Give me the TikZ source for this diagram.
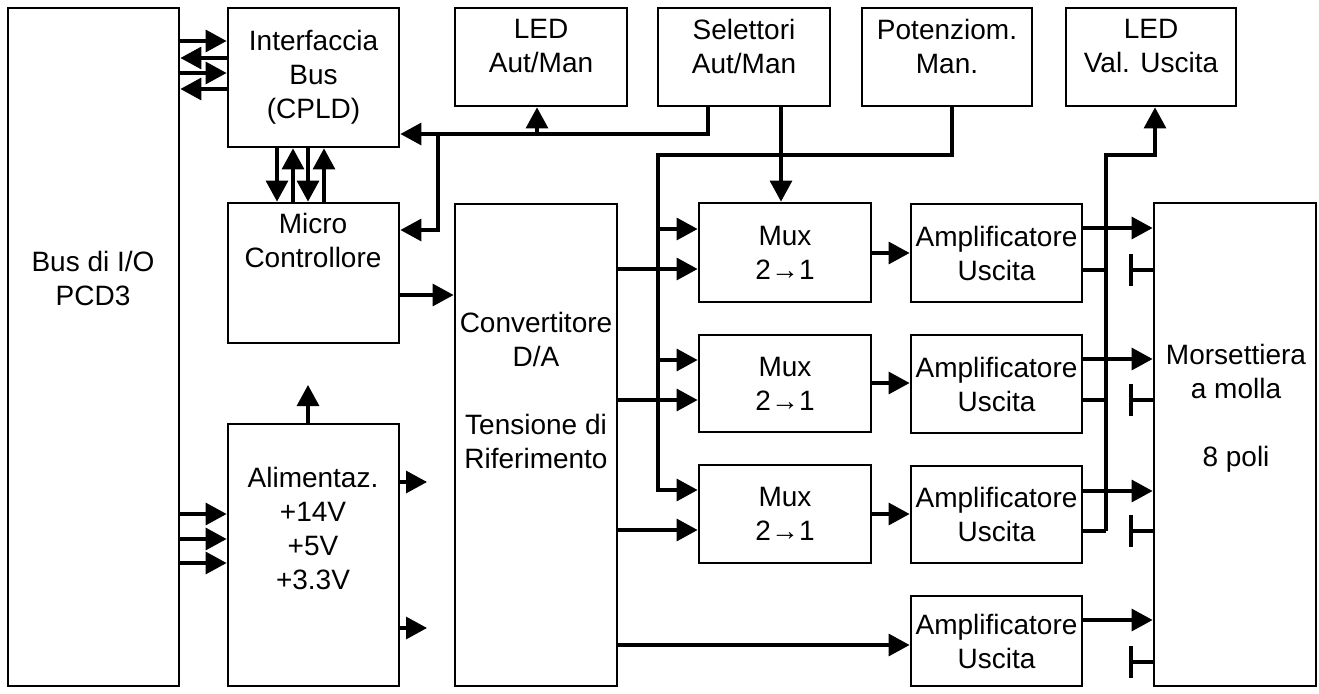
\documentclass[tikz,border=0pt]{standalone}
\usepackage{fontspec}
\setmainfont{Liberation Sans}
\usetikzlibrary{arrows.meta}
\begin{document}
\begin{tikzpicture}[x=1pt,y=-1pt,
  box/.style={draw,line width=2.8pt,rectangle,inner sep=0pt,align=center},
  txt/.style={align=center,inner sep=0pt,font=\fontsize{28}{34}\selectfont},
  ln/.style={line width=3.2pt},
  arr/.style={line width=3.2pt,-{Triangle[length=21pt,width=22pt]}}]
\useasboundingbox (0,0) rectangle (1319,693);
\newcommand{\bx}[5]{\node[box,minimum width={#4-#2},minimum height={#5-#3}] (#1) at ({(#2+#4)/2},{(#3+#5)/2}) {};}
% boxes
\bx{bus}{8}{8}{179}{686}
\bx{iface}{228}{8}{399}{147}
\bx{micro}{228}{203}{399}{343}
\bx{alim}{228}{424}{399}{686}
\bx{dac}{455}{204}{617}{686}
\bx{ledam}{455}{8}{627}{106}
\bx{sel}{658}{8}{830}{106}
\bx{pot}{862}{8}{1032}{106}
\bx{ledval}{1066}{8}{1236}{106}
\bx{mux1}{699}{203}{871}{302}
\bx{mux2}{699}{335}{871}{432}
\bx{mux3}{699}{465}{871}{563}
\bx{amp1}{911}{204}{1082}{302}
\bx{amp2}{911}{335}{1082}{433}
\bx{amp3}{911}{466}{1082}{563}
\bx{amp4}{911}{596}{1082}{686}
\bx{mors}{1154}{203}{1316}{686}
% texts
\node[txt] (tbus) at (93,278) {Bus di I/O\\PCD3};
\node[txt] at (iface.center) {Interfaccia\\Bus\\(CPLD)};
\node[txt] at (313,240) {Micro\\Controllore};
\node[txt] at (313,528) {Alimentaz.\\+14V\\+5V\\+3.3V};
\node[txt] at (536,390) {Convertitore\\D/A\\[34pt]Tensione di\\Riferimento};
\node[txt] at (541,46) {LED\\Aut/Man};
\node[txt] at (744,46) {Selettori\\Aut/Man};
\node[txt] at (947,46) {Potenziom.\\Man.};
\node[txt] at (1151,46) {LED\\Val. Uscita};
\foreach \m in {mux1,mux2,mux3}{\node[txt] at (\m.center) {Mux\\2→1};}
\foreach \a in {amp1,amp2,amp3,amp4}{\node[txt] at (\a.center) {Amplificatore\\Uscita};}
\node[txt] at (1236,408) {Morsettiera\\a molla\\[34pt]8 poli};
% bus <-> interface
\draw[arr] (bus.east |- 0,41) -- (iface.west |- 0,41);
\draw[arr] (iface.west |- 0,58) -- (bus.east |- 0,58);
\draw[arr] (bus.east |- 0,73) -- (iface.west |- 0,73);
\draw[arr] (iface.west |- 0,89) -- (bus.east |- 0,89);
% interface <-> micro
\draw[arr] (277,0 |- iface.south) -- (277,0 |- micro.north);
\draw[arr] (293,0 |- micro.north) -- (293,0 |- iface.south);
\draw[arr] (308,0 |- iface.south) -- (308,0 |- micro.north);
\draw[arr] (324,0 |- micro.north) -- (324,0 |- iface.south);
% selettori
\draw[arr] (708,0 |- sel.south) -- (708,134) -- (iface.east |- 0,134);
\draw[arr] (537,134) -- (537,0 |- ledam.south);
\draw[arr] (438,134) -- (438,230) -- (micro.east |- 0,230);
\draw[arr] (781,0 |- sel.south) -- (781,0 |- mux1.north);
% potenziometro
\draw[arr] (952,0 |- pot.south) -- (952,155) -- (658,155) -- (658,490) -- (mux3.west |- 0,490);
\draw[arr] (658,229) -- (mux1.west |- 0,229);
\draw[arr] (658,360) -- (mux2.west |- 0,360);
% micro -> dac
\draw[arr] (micro.east |- 0,295) -- (dac.west |- 0,295);
% alimentazione
\draw[arr] (308,0 |- alim.north) -- (308,385);
\draw[arr] (bus.east |- 0,514) -- (alim.west |- 0,514);
\draw[arr] (bus.east |- 0,539) -- (alim.west |- 0,539);
\draw[arr] (bus.east |- 0,563) -- (alim.west |- 0,563);
\draw[arr] (alim.east |- 0,482) -- (427,482);
\draw[arr] (alim.east |- 0,628) -- (427,628);
% dac -> mux / amp
\draw[arr] (dac.east |- 0,269) -- (mux1.west |- 0,269);
\draw[arr] (dac.east |- 0,400) -- (mux2.west |- 0,400);
\draw[arr] (dac.east |- 0,530) -- (mux3.west |- 0,530);
\draw[arr] (dac.east |- 0,645) -- (amp4.west |- 0,645);
% mux -> amp
\draw[arr] (mux1.east |- 0,253) -- (amp1.west |- 0,253);
\draw[arr] (mux2.east |- 0,383) -- (amp2.west |- 0,383);
\draw[arr] (mux3.east |- 0,514) -- (amp3.west |- 0,514);
% amp -> morsettiera
\draw[arr] (amp1.east |- 0,228) -- (mors.west |- 0,228);
\draw[arr] (amp2.east |- 0,359) -- (mors.west |- 0,359);
\draw[arr] (amp3.east |- 0,491) -- (mors.west |- 0,491);
\draw[arr] (amp4.east |- 0,620) -- (mors.west |- 0,620);
% feedback to LED val
\draw[ln] (amp1.east |- 0,270) -- (1106,270);
\draw[ln] (amp2.east |- 0,400) -- (1106,400);
\draw[ln] (amp3.east |- 0,531) -- (1106,531);
\draw[arr] (1106,531) -- (1106,155) -- (1155,155) -- (1155,0 |- ledval.south);
% T symbols
\foreach \y in {270,400,531,662}{
  \draw[ln] (mors.west |- 0,\y) -- (1131,\y);
  \draw[ln] (1131,\y-16) -- (1131,\y+16);
}
\end{tikzpicture}
\end{document}
